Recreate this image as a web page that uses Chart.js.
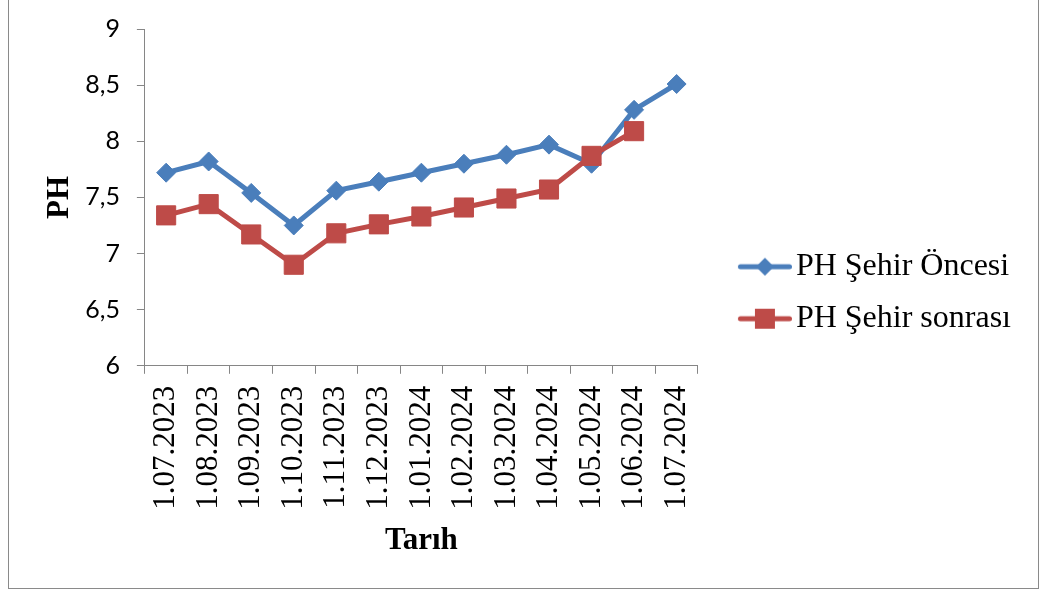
<!DOCTYPE html>
<html>
<head>
<meta charset="utf-8">
<script src="https://cdn.jsdelivr.net/npm/chart.js@4.4.1/dist/chart.umd.min.js"></script>
<style>
    body { margin: 0; background: #ffffff; }
    canvas { display: block; }
</style>
</head>
<body>
<canvas id="phChart" width="1046" height="594"></canvas>
<script>
const dates = [
    "1.07.2023", "1.08.2023", "1.09.2023", "1.10.2023", "1.11.2023",
    "1.12.2023", "1.01.2024", "1.02.2024", "1.03.2024", "1.04.2024",
    "1.05.2024", "1.06.2024", "1.07.2024"
];

const phBefore = [7.72, 7.82, 7.54, 7.25, 7.56, 7.64, 7.72, 7.80, 7.88, 7.97, 7.80, 8.28, 8.51];

const phAfter = [7.34, 7.44, 7.17, 6.90, 7.18, 7.26, 7.33, 7.41, 7.49, 7.57, 7.87, 8.09, null];

const seriesNames = ["PH Şehir Öncesi", "PH Şehir sonrası"];

const yTicks = [6, 6.5, 7, 7.5, 8, 8.5, 9];

const blue = "#4A7EBB";
const red = "#BE4B48";
const axisGray = "#868686";

let phChart = null;

// small line + marker picture, used as the legend symbol
function legendIcon(color, marker) {

    const c = document.createElement("canvas");
    c.width = 86;
    c.height = 26;

    const ctx = c.getContext("2d");

    ctx.strokeStyle = color;
    ctx.fillStyle = color;
    ctx.lineWidth = 5;
    ctx.lineCap = "round";

    ctx.beginPath();
    ctx.moveTo(34.5, 13);
    ctx.lineTo(83.5, 13);
    ctx.stroke();

    ctx.beginPath();
    if (marker === "diamond") {
        ctx.moveTo(59, 4);
        ctx.lineTo(68, 13);
        ctx.lineTo(59, 22);
        ctx.lineTo(50, 13);
        ctx.closePath();
    } else {
        ctx.rect(49, 3, 20, 20);
    }
    ctx.fill();

    return c;
}

const framePlugin = {
    id: "frame",
    afterDraw(chart) {
        const ctx = chart.ctx;
        ctx.save();
        ctx.strokeStyle = "#8a8a8a";
        ctx.lineWidth = 1;
        ctx.strokeRect(8.5, -2, 1030, 590.5);
        ctx.restore();
    }
};

function loadPhChart() {

    const canvas = document.getElementById("phChart");

    if (!canvas) return;

    if (phChart) {
        phChart.destroy();
    }

    const icons = [
        legendIcon(blue, "diamond"),
        legendIcon(red, "square")
    ];

    phChart = new Chart(canvas, {

        type: "line",

        data: {
            labels: dates,
            datasets: [
                {
                    label: seriesNames[0],
                    data: phBefore,
                    borderColor: blue,
                    backgroundColor: blue,
                    borderWidth: 5,
                    pointStyle: "rectRot",
                    pointRadius: 9.5,
                    pointBorderWidth: 1,
                    pointBackgroundColor: blue,
                    pointBorderColor: blue,
                    tension: 0,
                    order: 2
                },
                {
                    label: seriesNames[1],
                    data: phAfter,
                    borderColor: red,
                    backgroundColor: red,
                    borderWidth: 5,
                    pointStyle: "rect",
                    pointRadius: 13.5,
                    pointBorderWidth: 1,
                    pointBackgroundColor: red,
                    pointBorderColor: red,
                    tension: 0,
                    order: 1
                }
            ]
        },

        options: {

            responsive: false,
            animation: false,

            layout: {
                padding: { left: 24, top: 26, right: 25, bottom: 34.5 }
            },

            plugins: {
                tooltip: { enabled: false },
                legend: {
                    position: "right",
                    maxWidth: 400,
                    labels: {
                        usePointStyle: true,
                        pointStyleWidth: 62,
                        padding: 20,
                        color: "#000000",
                        font: { family: "Liberation Serif", size: 32 },
                        generateLabels: chart => chart.data.datasets.map((ds, i) => ({
                            text: ds.label,
                            pointStyle: icons[i],
                            fillStyle: ds.borderColor,
                            strokeStyle: ds.borderColor,
                            lineWidth: 0,
                            fontColor: "#000000",
                            hidden: false,
                            datasetIndex: i
                        }))
                    }
                }
            },

            scales: {
                x: {
                    offset: true,
                    grid: {
                        offset: true,
                        drawOnChartArea: false,
                        drawTicks: true,
                        tickLength: 8,
                        color: axisGray
                    },
                    border: { color: axisGray, width: 1 },
                    ticks: {
                        autoSkip: false,
                        minRotation: 90,
                        maxRotation: 90,
                        padding: 12,
                        color: "#000000",
                        font: { family: "Liberation Serif", size: 31 }
                    },
                    title: {
                        display: true,
                        text: "Tarıh",
                        color: "#000000",
                        font: { family: "Liberation Serif", size: 31, weight: "bold" },
                        padding: { top: 0.5, bottom: 0 }
                    }
                },
                y: {
                    min: 6,
                    max: 9,
                    afterBuildTicks: axis => {
                        axis.ticks = yTicks.map(v => ({ value: v }));
                    },
                    grid: {
                        drawOnChartArea: false,
                        drawTicks: true,
                        tickLength: 8,
                        color: axisGray
                    },
                    border: { color: axisGray, width: 1 },
                    ticks: {
                        padding: 17,
                        color: "#000000",
                        font: { family: "Lato", size: 25, lineHeight: 0.96 },
                        callback: v => String(v).replace(".", ",")
                    },
                    title: {
                        display: true,
                        text: "PH",
                        color: "#000000",
                        font: { family: "Liberation Serif", size: 31, weight: "bold" },
                        padding: { top: 17, bottom: -10 }
                    }
                }
            }
        },

        plugins: [framePlugin]
    });
}

window.onload = function () {
    loadPhChart();
};
</script>
</body>
</html>
